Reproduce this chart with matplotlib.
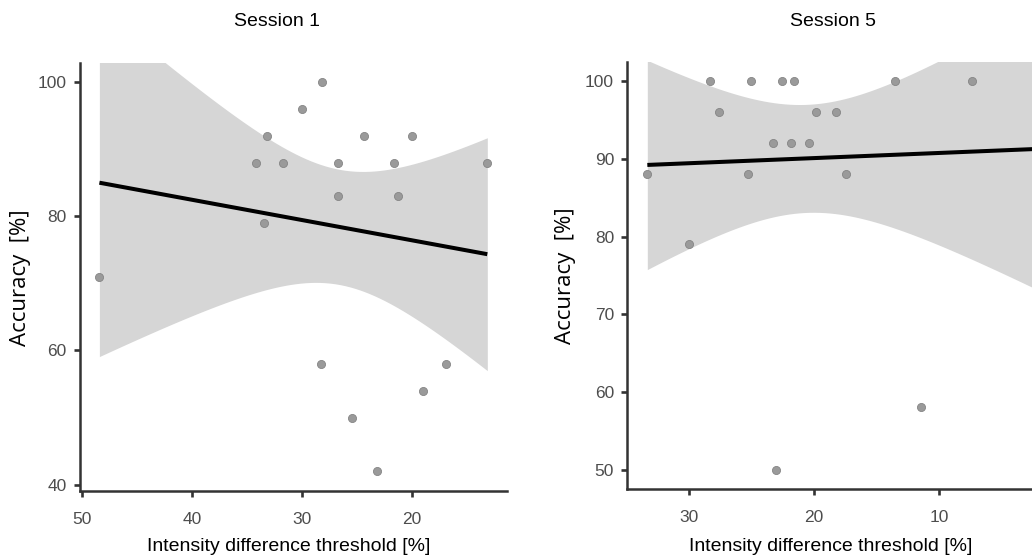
import numpy as np
import matplotlib
matplotlib.use("Agg")
import matplotlib.pyplot as plt

# ---- data ----
s1_threshold = [48.4, 34.15, 33.18, 33.42, 31.7, 30.03, 28.15, 28.24, 26.7, 26.7,
                25.43, 24.4, 23.19, 21.65, 21.32, 20.0, 18.99, 16.9, 13.18]
s1_accuracy = [71, 88, 92, 79, 88, 96, 100, 58, 88, 83,
               50, 92, 42, 88, 83, 92, 54, 58, 88]
s5_threshold = [33.33, 29.97, 28.35, 27.63, 25.29, 25.07, 23.32, 23.05, 22.54, 21.85,
                21.58, 20.41, 19.83, 18.28, 17.43, 13.54, 11.49, 7.39, 1.33]
s5_accuracy = [88, 79, 100, 96, 88, 100, 92, 50, 100, 92,
               100, 92, 96, 96, 88, 100, 58, 100, 96]
titles = ["Session 1", "Session 5"]
s1_xticks = [50, 40, 30, 20]
s1_yticks = [40, 60, 80, 100]
s5_xticks = [30, 20, 10]
s5_yticks = [50, 60, 70, 80, 90, 100]
xlabel = "Intensity difference threshold [%]"
ylabel = "Accuracy  [%]"

T_CRIT_17 = 2.1098  # t(0.975, df=17)

W, H = 1032, 557
fig = plt.figure(figsize=(W / 100, H / 100), dpi=100)
plt.rcParams['font.family'] = ['Liberation Sans', 'DejaVu Sans']


def px_axes(x0, x1, ytop, ybot):
    return fig.add_axes([x0 / W, 1 - ybot / H, (x1 - x0) / W, (ybot - ytop) / H])


def lm_ribbon(x, y, n_pts=80):
    x = np.asarray(x, float)
    y = np.asarray(y, float)
    n = len(x)
    b, a = np.polyfit(x, y, 1)
    resid = y - (a + b * x)
    s = np.sqrt(np.sum(resid ** 2) / (n - 2))
    xm = x.mean()
    sxx = np.sum((x - xm) ** 2)
    xs = np.linspace(x.min(), x.max(), n_pts)
    fit = a + b * xs
    se = s * np.sqrt(1 / n + (xs - xm) ** 2 / sxx)
    return xs, fit, fit - T_CRIT_17 * se, fit + T_CRIT_17 * se


def draw(ax, x, y, xticks, yticks):
    xs, fit, lo, hi = lm_ribbon(x, y)
    ax.fill_between(xs, lo, hi, color='#D6D6D6', lw=0, zorder=1)
    ax.plot(xs, fit, color='black', lw=2.9, zorder=2, solid_capstyle='butt')
    ax.scatter(x, y, s=34, color='#9a9a9a', edgecolor='#858585', linewidth=0.6,
               zorder=3)
    xr = max(x) - min(x)
    yr = max(y) - min(y)
    ax.set_xlim(max(x) + 0.05 * xr, min(x) - 0.05 * xr)
    ax.set_ylim(min(y) - 0.05 * yr, max(y) + 0.05 * yr)
    ax.set_xticks(xticks)
    ax.set_yticks(yticks)
    for side in ['top', 'right']:
        ax.spines[side].set_visible(False)
    for side in ['left', 'bottom']:
        ax.spines[side].set_linewidth(1.8)
        ax.spines[side].set_color('#333333')
    ax.tick_params(axis='both', length=4.5, width=1.9, color='#333333',
                   labelsize=12.5, labelcolor='#4D4D4D')
    ax.tick_params(axis='x', pad=10.5)
    ax.tick_params(axis='y', pad=5)
    ax.set_facecolor('none')


ax1 = px_axes(80, 506.7, 62.7, 490.7)
draw(ax1, s1_threshold, s1_accuracy, s1_xticks, s1_yticks)
ax2 = px_axes(627.3, 1067.9, 61.7, 489)
draw(ax2, s5_threshold, s5_accuracy, s5_xticks, s5_yticks)

# titles and axis labels
fig.text(277 / W, 1 - 26 / H, titles[0], ha='center', va='baseline', fontsize=14)
fig.text(833 / W, 1 - 26 / H, titles[1], ha='center', va='baseline', fontsize=14)
fig.text(289 / W, 1 - 551 / H, xlabel, ha='center', va='baseline', fontsize=14)
fig.text(831 / W, 1 - 551 / H, xlabel, ha='center', va='baseline', fontsize=14)
fig.text(21 / W, 1 - 277.5 / H, ylabel, ha='center', va='center', rotation=90,
         fontsize=16, family=['Open Sans', 'DejaVu Sans'])
fig.text(566 / W, 1 - 276 / H, ylabel, ha='center', va='center', rotation=90,
         fontsize=16, family=['Open Sans', 'DejaVu Sans'])

fig.savefig('out.png', dpi=100)
